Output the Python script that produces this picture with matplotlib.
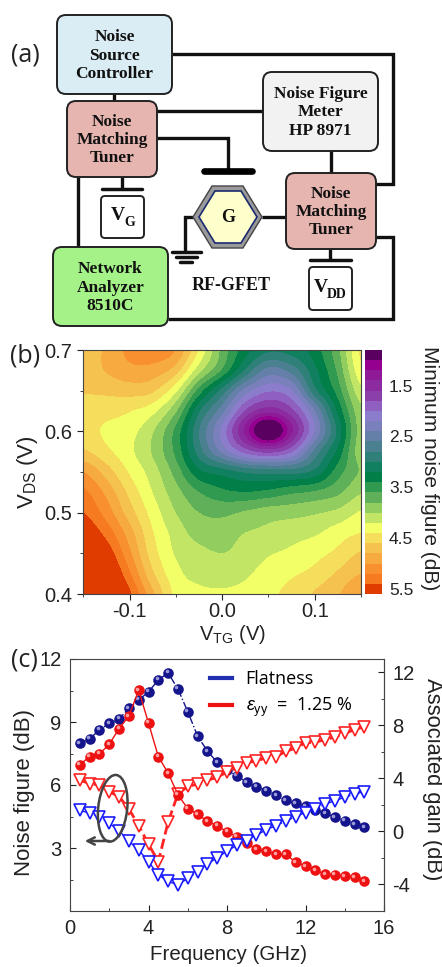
import numpy as np
import matplotlib
matplotlib.use('Agg')
import matplotlib.pyplot as plt
import matplotlib.transforms as mtransforms
from matplotlib.colors import BoundaryNorm, ListedColormap
from matplotlib.lines import Line2D
from matplotlib.patches import Ellipse, FancyBboxPatch, Polygon
from matplotlib.ticker import MultipleLocator

W, H = 442, 967

plt.rcParams['font.family'] = 'Liberation Sans'
plt.rcParams['mathtext.fontset'] = 'custom'
plt.rcParams['mathtext.rm'] = 'Liberation Sans'
plt.rcParams['mathtext.it'] = 'Liberation Sans:italic'
plt.rcParams['mathtext.fallback'] = 'stix'
plt.rcParams['axes.unicode_minus'] = False

# panel (b), rows from V_DS = 0.7 down to 0.4
v_tg = [-0.15, -0.125, -0.1, -0.075, -0.05, -0.025, 0.0, 0.025, 0.05, 0.075, 0.1, 0.125, 0.15]
v_ds = [0.7, 0.675, 0.65, 0.625, 0.6, 0.575, 0.55, 0.525, 0.5, 0.475, 0.45, 0.425, 0.4]
nf_min = [
    [4.60, 4.85, 5.05, 5.15, 5.00, 4.40, 3.75, 3.30, 3.05, 3.10, 3.30, 3.75, 4.45],
    [4.65, 4.82, 4.95, 4.93, 4.72, 4.10, 3.60, 3.00, 2.55, 2.70, 3.15, 3.65, 4.35],
    [4.62, 4.65, 4.70, 4.65, 4.27, 3.55, 2.95, 2.35, 2.05, 2.20, 2.95, 3.50, 4.15],
    [4.50, 4.48, 4.42, 4.28, 3.85, 3.05, 2.50, 1.80, 1.50, 1.75, 2.40, 3.25, 3.95],
    [4.48, 4.37, 4.28, 4.03, 3.55, 2.82, 2.15, 1.35, 0.60, 1.35, 2.20, 3.05, 3.90],
    [4.63, 4.45, 4.25, 3.98, 3.55, 2.90, 2.35, 1.90, 1.70, 1.95, 2.65, 3.25, 3.92],
    [5.00, 4.71, 4.38, 4.10, 3.72, 3.25, 3.10, 2.95, 2.90, 2.90, 3.05, 3.50, 3.82],
    [5.25, 4.95, 4.55, 4.20, 3.88, 3.60, 3.45, 3.40, 3.45, 3.55, 3.62, 3.75, 3.98],
    [5.40, 5.12, 4.70, 4.32, 4.00, 3.80, 3.75, 3.82, 3.90, 3.92, 3.97, 4.05, 4.22],
    [5.60, 5.33, 4.90, 4.42, 4.12, 3.92, 3.90, 4.00, 4.05, 4.12, 4.17, 4.30, 4.40],
    [5.80, 5.55, 5.05, 4.50, 4.18, 4.06, 4.00, 4.08, 4.18, 4.24, 4.33, 4.45, 4.62],
    [6.00, 5.75, 5.24, 4.64, 4.27, 4.13, 4.12, 4.17, 4.28, 4.37, 4.46, 4.63, 4.80],
    [6.20, 6.00, 5.45, 4.85, 4.35, 4.25, 4.22, 4.25, 4.35, 4.47, 4.62, 4.78, 5.00],
]
nf_levels = [0.8, 1.0, 1.2, 1.4, 1.6, 1.8, 2.0, 2.2, 2.4, 2.6, 2.8, 3.0, 3.2,
             3.4, 3.6, 3.8, 4.0, 4.2, 4.4, 4.6, 4.8, 5.0, 5.2, 5.4, 5.6]
nf_colors = ['#5a0060', '#960090', '#8f1a98', '#8c2ba0', '#8a40a8', '#8f60c0',
             '#8c7ccc', '#7a80bc', '#6480a8', '#4a8090', '#2e8078', '#108060',
             '#008048', '#2f9a50', '#5fb058', '#92cd60', '#c3e565', '#f3ff66',
             '#f4de5c', '#f5c250', '#f6aa40', '#f89030', '#f57a20', '#e03c00']
cbar_ticks = [1.5, 2.5, 3.5, 4.5, 5.5]

# panel (c)
freq = [0.5, 1.0, 1.5, 2.0, 2.5, 3.0, 3.5, 4.0, 4.5, 5.0, 5.5, 6.0, 6.5, 7.0, 7.5,
        8.0, 8.5, 9.0, 9.5, 10.0, 10.5, 11.0, 11.5, 12.0, 12.5, 13.0, 13.5, 14.0, 14.5, 15.0]
gain_flat = [6.64, 6.99, 7.65, 8.15, 8.48, 9.28, 9.91, 10.52, 11.42, 11.95, 10.74, 9.03,
             7.19, 6.06, 5.21, 4.65, 4.20, 3.70, 3.37, 3.07, 2.71, 2.34, 2.11, 1.89,
             1.61, 1.38, 1.08, 0.80, 0.55, 0.30]
gain_strain = [5.03, 5.64, 5.84, 6.57, 7.75, 8.70, 10.64, 8.18, 5.64, 4.40, 2.77, 1.71,
               1.31, 0.75, 0.43, -0.03, -0.40, -0.91, -1.36, -1.48, -1.74, -1.74, -2.31,
               -2.62, -2.92, -3.22, -3.27, -3.37, -3.45, -3.75]
nf_flat = [4.79, 4.66, 4.50, 4.17, 3.83, 3.32, 2.91, 2.35, 1.72, 1.41, 1.24, 1.56, 1.86,
           2.23, 2.54, 2.85, 3.13, 3.34, 3.62, 3.86, 4.07, 4.28, 4.50, 4.69, 4.86, 5.09,
           5.25, 5.42, 5.56, 5.69]
nf_strain = [6.23, 6.07, 5.99, 5.68, 5.45, 4.86, 4.07, 3.18, 2.35, 4.24, 5.58, 5.93, 6.04,
             6.23, 6.36, 6.63, 6.82, 7.07, 7.14, 7.30, 7.35, 7.60, 7.76, 8.00, 8.04, 8.16,
             8.28, 8.46, 8.63, 8.78]

# panel (a), boxes as left, top, right, bottom, fill, text
boxes = [
    (57, 15, 172, 94, '#daedf4', 'Noise\nSource\nController'),
    (67, 101, 157, 177, '#e6b5b0', 'Noise\nMatching\nTuner'),
    (263, 72, 378, 151, '#f2f2f2', 'Noise Figure\nMeter\nHP 8971'),
    (286, 173, 376, 249, '#e6b5b0', 'Noise\nMatching\nTuner'),
    (53, 247, 168, 326, '#a4f288', 'Network\nAnalyzer\n8510C'),
]
supply_boxes = [(101, 196, 144, 238), (309, 267, 352, 310)]
wires = [
    [(172, 54), (393, 54), (393, 184), (376, 184)],
    [(114, 94), (114, 101)],
    [(157, 111), (263, 111)],
    [(157, 138), (228, 138), (228, 170)],
    [(122, 177), (122, 189)],
    [(78, 177), (78, 247)],
    [(331, 151), (331, 173)],
    [(262, 217), (286, 217)],
    [(193, 217), (185, 217), (185, 252)],
    [(330, 249), (330, 260)],
    [(376, 237), (393, 237), (393, 319), (168, 319)],
]
plates = [(102, 142, 189, 1.9), (310, 351, 260, 1.9), (172, 201, 252, 1.9),
          (176, 197, 257, 1.9), (180, 192, 262, 1.9)]


def rect(left, top, right, bottom):
    return [left / W, 1 - bottom / H, (right - left) / W, (bottom - top) / H]


def gain_to_nf(g):
    return (np.asarray(g) + 6) * 12 / 19


def nf_to_gain(n):
    return np.asarray(n) * 19 / 12 - 6


fig = plt.figure(figsize=(W / 100, H / 100), dpi=100)
ink = '#222222'
tick_size = 14.5

# (b) contour map
ax_b = fig.add_axes(rect(83.3, 350, 361, 594))
cmap = ListedColormap(nf_colors)
norm = BoundaryNorm(nf_levels, cmap.N, clip=True)
im = ax_b.imshow(np.array(nf_min), cmap=cmap, norm=norm, aspect='auto',
                 interpolation='catrom', interpolation_stage='data',
                 extent=[v_tg[0] - 0.0125, v_tg[-1] + 0.0125, v_ds[-1] - 0.0125, v_ds[0] + 0.0125])
ax_b.set_xlim(-0.15, 0.15)
ax_b.set_ylim(0.4, 0.7)
ax_b.xaxis.set_major_locator(MultipleLocator(0.1))
ax_b.xaxis.set_minor_locator(MultipleLocator(0.05))
ax_b.yaxis.set_major_locator(MultipleLocator(0.1))
ax_b.yaxis.set_minor_locator(MultipleLocator(0.05))
ax_b.tick_params(which='both', direction='out', colors=ink, labelsize=tick_size, pad=2)
ax_b.tick_params(axis='y', which='both', pad=4)
ax_b.tick_params(which='major', length=4)
ax_b.tick_params(which='minor', length=2.5)
for s in ax_b.spines.values():
    s.set_color('#444444')

cax = fig.add_axes(rect(365, 350, 382, 594))
cb = fig.colorbar(im, cax=cax, spacing='proportional', ticks=cbar_ticks)
cb.outline.set_visible(False)
cax.invert_yaxis()
cax.tick_params(length=0, labelsize=12.5, colors=ink, pad=5)
cax.minorticks_off()

# (c) noise figure and gain
ax_c = fig.add_axes(rect(70, 659, 384, 911))
ax_c.set_xlim(0, 16)
ax_c.set_ylim(0, 12)
blue = '#14148c'
red = '#ee1111'
tri_blue = '#1a1aff'
tri_red = '#ff2222'
hi = mtransforms.offset_copy(ax_c.transData, fig, x=-1.5, y=1.5, units='dots')

ax_c.plot(freq, gain_to_nf(gain_flat), color=blue, lw=1, ls='-.', marker='o', ms=7.6,
          mfc=blue, mec=blue, mew=0, zorder=2)
ax_c.plot(freq, gain_to_nf(gain_flat), ls='none', marker='o', ms=2.6, mfc='#9a9ad8',
          mew=0, transform=hi, zorder=2.1)
ax_c.plot(freq, nf_strain, color=tri_red, lw=2, ls='--', marker='v', ms=8,
          mfc='white', mec=tri_red, mew=1.2, zorder=3)
ax_c.plot(freq, gain_to_nf(gain_strain), color=red, lw=1, ls='-', marker='o', ms=7.6,
          mfc=red, mec=red, mew=0, zorder=4)
ax_c.plot(freq, gain_to_nf(gain_strain), ls='none', marker='o', ms=2.6, mfc='#ffa0a0',
          mew=0, transform=hi, zorder=4.1)
ax_c.plot(freq, nf_flat, color=tri_blue, lw=1, ls='-.', marker='v', ms=8,
          mfc='white', mec=tri_blue, mew=1.2, zorder=5)

ax_c.xaxis.set_major_locator(MultipleLocator(4))
ax_c.xaxis.set_minor_locator(MultipleLocator(2))
ax_c.yaxis.set_major_locator(MultipleLocator(3))
ax_c.yaxis.set_minor_locator(MultipleLocator(1.5))
ax_c.set_yticks([3, 6, 9, 12])
ax_c.tick_params(which='both', direction='in', colors=ink, labelsize=tick_size, pad=6)
ax_c.tick_params(which='major', length=4.5)
ax_c.tick_params(which='minor', length=2.5)

ax_r = ax_c.secondary_yaxis('right', functions=(nf_to_gain, gain_to_nf))
ax_r.yaxis.set_major_locator(MultipleLocator(4))
ax_r.yaxis.set_minor_locator(MultipleLocator(2))
ax_r.tick_params(which='both', direction='in', colors=ink, labelsize=tick_size, pad=6)
ax_r.tick_params(which='major', length=4.5)
ax_r.tick_params(which='minor', length=2.5)
ax_r.spines['right'].set_color('#444444')
for s in ax_c.spines.values():
    s.set_color('#444444')

handles = [Line2D([], [], color='#2030b0', lw=3), Line2D([], [], color=red, lw=3)]
ax_c.legend(handles, ['Flatness', r'$\varepsilon_{\mathrm{yy}}$  =  1.25 %'], frameon=False,
            loc='upper left', bbox_to_anchor=(0.41, 1.0), handlelength=1.25, handletextpad=0.75,
            labelspacing=0.45, borderaxespad=0.2, prop={'family': 'Open Sans', 'size': 13})

# (a) schematic and all free text, in pixel coordinates
over = fig.add_axes([0, 0, 1, 1], zorder=10)
over.set_xlim(0, W)
over.set_ylim(H, 0)
over.axis('off')

for w in wires:
    over.plot([p[0] for p in w], [p[1] for p in w], color='#111111', lw=2.4,
              solid_joinstyle='miter', solid_capstyle='butt', zorder=1)
for x0, x1, y, lw in plates:
    over.plot([x0, x1], [y, y], color='#111111', lw=lw + 0.6, solid_capstyle='round', zorder=1)
over.plot([204, 252], [170.5, 170.5], color='black', lw=4.8, solid_capstyle='round', zorder=1)

for x0, y0, x1, y1, fill, label in boxes:
    over.add_patch(FancyBboxPatch((x0, y0), x1 - x0, y1 - y0, boxstyle='round,pad=0,rounding_size=9',
                                  fc=fill, ec='#222222', lw=1.4, zorder=2))
    over.text((x0 + x1) / 2, (y0 + y1) / 2 + 1, label, ha='center', va='center', color='#111111',
              family='Liberation Serif', weight='bold', fontsize=12.5, linespacing=1.2, zorder=3)
for x0, y0, x1, y1 in supply_boxes:
    over.add_patch(FancyBboxPatch((x0, y0), x1 - x0, y1 - y0, boxstyle='round,pad=0,rounding_size=4',
                                  fc='white', ec='#222222', lw=1.4, zorder=2))

serif = dict(family='Liberation Serif', weight='bold', color='#111111', zorder=3)
over.text(118, 215, 'V', ha='center', va='center', fontsize=14, **serif)
over.text(130, 222, 'G', ha='center', va='center', fontsize=10, **serif)
over.text(321, 288, 'V', ha='center', va='center', fontsize=14, **serif)
over.text(337, 295, 'DD', ha='center', va='center', fontsize=10, **serif)
over.text(231, 285, 'RF-GFET', ha='center', va='center', fontsize=13, **serif)

over.add_patch(Polygon([(193, 217), (212, 186), (243, 186), (262, 217), (243, 248), (212, 248)],
                       fc='#9a9a9a', ec='#444444', lw=1, zorder=2))
over.add_patch(Polygon([(199, 217), (215, 191), (241, 191), (257, 217), (241, 243), (215, 243)],
                       fc='#ffffcc', ec='#1a2a70', lw=1.2, zorder=2))
over.text(228, 218, 'G', ha='center', va='center', fontsize=13, **serif)

over.add_patch(Ellipse((112.7, 808.3), 29, 67, angle=6, fc='none', ec='#444444', lw=1.8, zorder=6))
over.annotate('', xy=(82, 841), xytext=(112, 841),
              arrowprops=dict(arrowstyle='->', color='#444444', lw=1.8, mutation_scale=13))

for x, y, s in [(25.5, 55, '(a)'), (25, 356, '(b)'), (24, 660, '(c)')]:
    over.text(x, y, s, ha='center', va='center', family='Open Sans', fontsize=18, color=ink)

over.text(27, 472, r'V$_{\mathrm{DS}}$ (V)', rotation=90, ha='center', va='center', fontsize=16, color=ink)
over.text(232, 635, r'V$_{\mathrm{TG}}$ (V)', ha='center', va='center', fontsize=14.5, color=ink)
over.text(430, 468, 'Minimum noise figure (dB)', rotation=270, ha='center', va='center', fontsize=15, color=ink)
over.text(25, 793, 'Noise figure (dB)', rotation=90, ha='center', va='center', fontsize=16, color=ink)
over.text(432, 779, 'Associated gain (dB)', rotation=270, ha='center', va='center', fontsize=15.8, color=ink)
over.text(229, 955, 'Frequency (GHz)', ha='center', va='center', fontsize=14.8, color=ink)

fig.savefig('out.png', dpi=100)
